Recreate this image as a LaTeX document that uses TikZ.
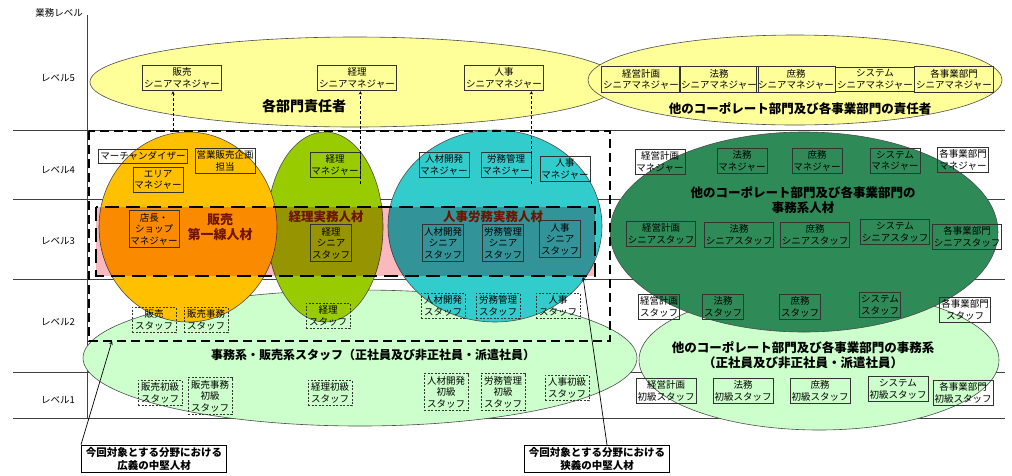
\documentclass[tikz,border=0pt]{standalone}
\usepackage{fontspec}
\setmainfont{Noto Sans CJK JP}

\definecolor{lvyellow}{RGB}{255,255,153}
\definecolor{lvorange}{RGB}{255,192,0}
\definecolor{lvgreen}{RGB}{153,204,0}
\definecolor{lvcyan}{RGB}{51,204,204}
\definecolor{lvdark}{RGB}{46,139,87}
\definecolor{lvlight}{RGB}{204,255,204}
\definecolor{lvpink}{RGB}{250,185,190}
\definecolor{lvred}{RGB}{110,20,0}

\begin{document}
\begin{tikzpicture}[x=1pt, y=-1pt,
  every node/.style={font=\fontsize{9.5}{11.5}\selectfont, align=center, inner xsep=1.5pt, inner ysep=2.5pt},
  box/.style={draw=black!80, line width=0.7pt},
  dbox/.style={draw=black!80, line width=0.7pt, dash pattern=on 2pt off 1.5pt, inner xsep=3pt},
  axis/.style={draw=black!75, line width=0.7pt},
  blob/.style={draw=black!70, line width=0.6pt},
  big/.style={font=\bfseries\fontsize{14}{16}\selectfont},
  mid/.style={font=\bfseries\fontsize{12.5}{14.5}\selectfont},
  callout/.style={draw, line width=1pt, font=\bfseries\fontsize{10.5}{12.5}\selectfont, minimum width=145pt},
  wide/.style={line width=2pt, dash pattern=on 9pt off 5pt},
  narrow/.style={line width=2.8pt, dash pattern=on 14pt off 7pt},
  link/.style={->, densely dashed, line width=0.6pt},
  pointer/.style={->, line width=0.7pt},
  >=stealth
]
\useasboundingbox (0,0) rectangle (1012,475);

% axis and level rows
\draw[axis] (87,15) -- (87,418);
\foreach \y in {130,199,279,372,418}
  \draw[axis] (13,\y) -- (1005,\y);
\node (axislbl) at (59,13) {業務レベル};
\node (lv5) at (58,78) {レベル5};
\node (lv4) at (58,170) {レベル4};
\node (lv3) at (58,241) {レベル3};
\node (lv2) at (58,322) {レベル2};
\node (lv1) at (58,400) {レベル1};

% groups
\draw[blob, fill=lvyellow] (355,82) ellipse [x radius=265, y radius=45];
\draw[blob, fill=lvyellow] (795,80) ellipse [x radius=207, y radius=45];
\draw[blob, fill=lvlight] (360,358) ellipse [x radius=277, y radius=68];
\draw[blob, fill=lvlight] (819,360) ellipse [x radius=180, y radius=70];
\draw[blob, fill=lvgreen] (325,227) ellipse [x radius=58, y radius=95];
\draw[blob, fill=lvorange] (188,227) ellipse [x radius=89, y radius=95];
\draw[blob, fill=lvcyan] (495,226) ellipse [x radius=107, y radius=96];
\draw[blob, fill=lvdark] (804,232) ellipse [x radius=194, y radius=100];

% level 3 band
\begin{scope}[blend mode=multiply]
  \fill[lvpink] (96,207) rectangle (595,276);
\end{scope}
\draw[wide] (89,131) rectangle (610,341);
\draw[narrow] (96,207) rectangle (595,276);

% headings
\node[big] (sekinin) at (304,106) {各部門責任者};
\node[mid] (tasekinin) at (800,109) {他のコーポレート部門及び各事業部門の責任者};
\node[mid] (tajimu) at (803,200) {他のコーポレート部門及び各事業部門の\\事務系人材};
\node[mid, text=lvred, font=\bfseries\fontsize{13}{15}\selectfont] (hanbai) at (220,227) {販売\\第一線人材};
\node[mid, text=lvred] (keirijitsumu) at (326,217) {経理実務人材};
\node[mid, text=lvred] (jinjijitsumu) at (493,217) {人事労務実務人材};
\node[mid, font=\bfseries\fontsize{12}{14}\selectfont] (staff) at (373,355) {事務系・販売系スタッフ（正社員及び非正社員・派遣社員）};
\node[mid] (tastaff) at (803,355) {他のコーポレート部門及び各事業部門の事務系\\（正社員及び非正社員・派遣社員）};

% level 5
\node[box] (hanbaiSM) at (182,78) {販売\\シニアマネジャー};
\node[box] (keiriSM) at (357,78) {経理\\シニアマネジャー};
\node[box] (jinjiSM) at (504,78) {人事\\シニアマネジャー};
\node[box] (keieiSM) at (641,79.5) {経営計画\\シニアマネジャー};
\node[box] (houmuSM) at (719,79.5) {法務\\シニアマネジャー};
\node[box] (shomuSM) at (796,79.5) {庶務\\シニアマネジャー};
\node[box] (systemSM) at (875,79.5) {システム\\シニアマネジャー};
\node[box] (jigyouSM) at (954,79.5) {各事業部門\\シニアマネジャー};

% level 4
\node[box] (merch) at (143,156) {マーチャンダイザー};
\node[box] (kikaku) at (225,161) {営業販売企画\\担当};
\node[box] (areaM) at (158,180) {エリア\\マネジャー};
\node[box] (keiriM) at (335,165) {経理\\マネジャー};
\node[box] (jinzaiM) at (444,165) {人材開発\\マネジャー};
\node[box] (roumuM) at (506,165) {労務管理\\マネジャー};
\node[box] (jinjiM) at (565,169) {人事\\マネジャー};
\node[box] (keieiM) at (660,162) {経営計画\\マネジャー};
\node[box] (houmuM) at (742,161) {法務\\マネジャー};
\node[box] (shomuM) at (817,161) {庶務\\マネジャー};
\node[box] (systemM) at (895,161) {システム\\マネジャー};
\node[box] (jigyouM) at (963,160) {各事業部門\\マネジャー};

% level 3
\node[box] (tenchou) at (154,229) {店長・\\ショップ\\マネジャー};
\node[box] (keiriSS) at (331,243) {経理\\シニア\\スタッフ};
\node[box] (jinzaiSS) at (443,243) {人材開発\\シニア\\スタッフ};
\node[box] (roumuSS) at (503,243) {労務管理\\シニア\\スタッフ};
\node[box] (jinjiSS) at (560,239) {人事\\シニア\\スタッフ};
\node[box] (keieiSS) at (661,234) {経営計画\\シニアスタッフ};
\node[box] (houmuSS) at (739,235) {法務\\シニアスタッフ};
\node[box] (shomuSS) at (815,235) {庶務\\シニアスタッフ};
\node[box] (systemSS) at (895,232) {システム\\シニアスタッフ};
\node[box] (jigyouSS) at (967,237) {各事業部門\\シニアスタッフ};

% level 2
\node[dbox] (hanbaiS) at (154,320) {販売\\スタッフ};
\node[dbox] (jimuS) at (206,320) {販売事務\\スタッフ};
\node[dbox] (keiriS) at (328,316) {経理\\スタッフ};
\node[dbox] (jinzaiS) at (443,306) {人材開発\\スタッフ};
\node[dbox] (roumuS) at (498,306) {労務管理\\スタッフ};
\node[dbox] (jinjiS) at (558,306) {人事\\スタッフ};
\node[box] (keieiS) at (659,307) {経営計画\\スタッフ};
\node[box] (houmuS) at (723,307) {法務\\スタッフ};
\node[box] (shomuS) at (800,307) {庶務\\スタッフ};
\node[box] (systemS) at (880,305) {システム\\スタッフ};
\node[box] (jigyouS) at (965,310) {各事業部門\\スタッフ};

% level 1
\node[dbox] (hanbaiJ) at (160,393) {販売初級\\スタッフ};
\node[dbox] (jimuJ) at (210,396) {販売事務\\初級\\スタッフ};
\node[dbox] (keiriJ) at (330,393) {経理初級\\スタッフ};
\node[dbox] (jinzaiJ) at (446,392) {人材開発\\初級\\スタッフ};
\node[dbox] (roumuJ) at (503,392) {労務管理\\初級\\スタッフ};
\node[dbox] (jinjiJ) at (567,388) {人事初級\\スタッフ};
\node[box] (keieiJ) at (666,391) {経営計画\\初級スタッフ};
\node[box] (houmuJ) at (743,391) {法務\\初級スタッフ};
\node[box] (shomuJ) at (820,391) {庶務\\初級スタッフ};
\node[box] (systemJ) at (898,389) {システム\\初級スタッフ};
\node[box] (jigyouJ) at (963,393) {各事業部門\\初級スタッフ};

% callouts
\node[callout] (koui) at (154,459) {今回対象とする分野における\\広義の中堅人材};
\node[callout] (kyougi) at (597,459) {今回対象とする分野における\\狭義の中堅人材};

% connectors
\coordinate (hanbaitop) at (173,131);
\draw[link] (hanbaitop) -- (hanbaitop |- hanbaiSM.south);
\draw[link] ([yshift=-6pt]keiriM.south east) -- (keiriM.east |- keiriSM.south);
\draw[link] ([yshift=-6pt]roumuM.south east) -- (roumuM.east |- jinjiSM.south);
\coordinate (kouitip) at (112,341);
\draw[pointer] (koui.north west) -- (kouitip);
\coordinate (kyougifoot) at (607,445);
\coordinate (kyougitip) at (583,277);
\draw[pointer] (kyougifoot) -- (kyougitip);
\end{tikzpicture}
\end{document}
